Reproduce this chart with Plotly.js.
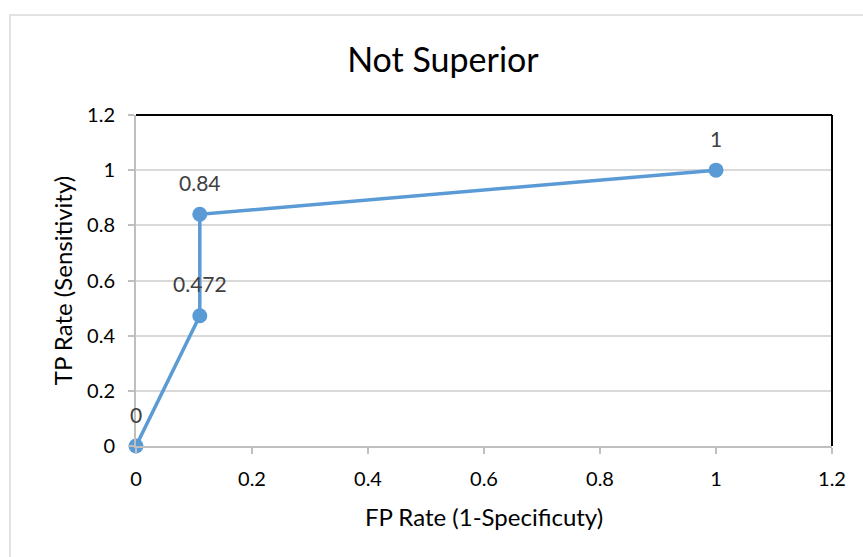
<!DOCTYPE html>
<html>
<head>
<meta charset="utf-8">
<script src="https://cdn.plot.ly/plotly-3.0.1.min.js"></script>
<style>html,body{margin:0;padding:0;background:#fff;}#chart{width:863px;height:557px;}</style>
</head>
<body>
<div id="chart"></div>
<script>
var fpRate = [0, 0.11, 0.11, 1];
var tpRate = [0, 0.472, 0.84, 1];
var pointLabels = ['0', '0.472', '0.84', '1'];
var tickVals = [0, 0.2, 0.4, 0.6, 0.8, 1, 1.2];
var tickText = ['0', '0.2', '0.4', '0.6', '0.8', '1', '1.2'];

var FONT = 'Lato, "Open Sans", sans-serif';

var trace = {
  x: fpRate, y: tpRate, type: 'scatter', mode: 'lines+markers',
  line: {color: '#5B9BD5', width: 3.5},
  marker: {color: '#5B9BD5', size: 15},
  hoverinfo: 'x+y', cliponaxis: false
};

var annotations = fpRate.map(function (x, i) {
  return {x: x, y: tpRate[i], xref: 'x', yref: 'y', text: pointLabels[i],
    showarrow: false, yshift: 32, font: {family: FONT, size: 21, color: '#404040'}};
});

var layout = {
  width: 863, height: 557,
  margin: {l: 136, r: 31, t: 115, b: 111},
  paper_bgcolor: '#ffffff', plot_bgcolor: '#ffffff',
  showlegend: false,
  title: {text: 'Not Superior', x: 0.441, xref: 'paper', xanchor: 'center', y: 0.892, yref: 'container', yanchor: 'middle',
    font: {family: FONT, size: 34, color: '#000000'}},
  xaxis: {
    range: [0, 1.2], tickvals: tickVals, ticktext: tickText,
    showgrid: false, zeroline: false,
    showline: true, linecolor: '#BFBFBF', linewidth: 2,
    ticks: 'outside', ticklen: 6, tickcolor: '#BFBFBF', tickwidth: 1.5,
    ticklabelstandoff: 8,
    tickfont: {family: FONT, size: 20, color: '#000000'},
    title: {text: 'FP Rate (1-Specificuty)', standoff: 20, font: {family: FONT, size: 24, color: '#000000'}},
    automargin: false
  },
  yaxis: {
    range: [0, 1.2], tickvals: tickVals, ticktext: tickText,
    showgrid: true, gridcolor: '#D9D9D9', gridwidth: 1.5, zeroline: false,
    showline: true, linecolor: '#BFBFBF', linewidth: 2,
    ticks: 'outside', ticklen: 6, tickcolor: '#BFBFBF', tickwidth: 1.5,
    ticklabelstandoff: 9,
    tickfont: {family: FONT, size: 20, color: '#000000'},
    title: {text: 'TP Rate (Sensitivity)', standoff: 8, font: {family: FONT, size: 24, color: '#000000'}},
    automargin: false
  },
  annotations: annotations,
  shapes: [
    {type: 'line', xref: 'paper', yref: 'paper', x0: 0, x1: 1, y0: 1, y1: 1, line: {color: '#000000', width: 2}},
    {type: 'line', xref: 'paper', yref: 'paper', x0: 1, x1: 1, y0: 0, y1: 1, line: {color: '#000000', width: 2}},
    {type: 'rect', xref: 'paper', yref: 'paper', x0: -0.181, x1: 1.2, y0: -0.5, y1: 1.302, line: {color: '#D9D9D9', width: 1.5}, layer: 'below'}
  ]
};

Plotly.newPlot('chart', [trace], layout, {displayModeBar: false});
</script>
</body>
</html>
